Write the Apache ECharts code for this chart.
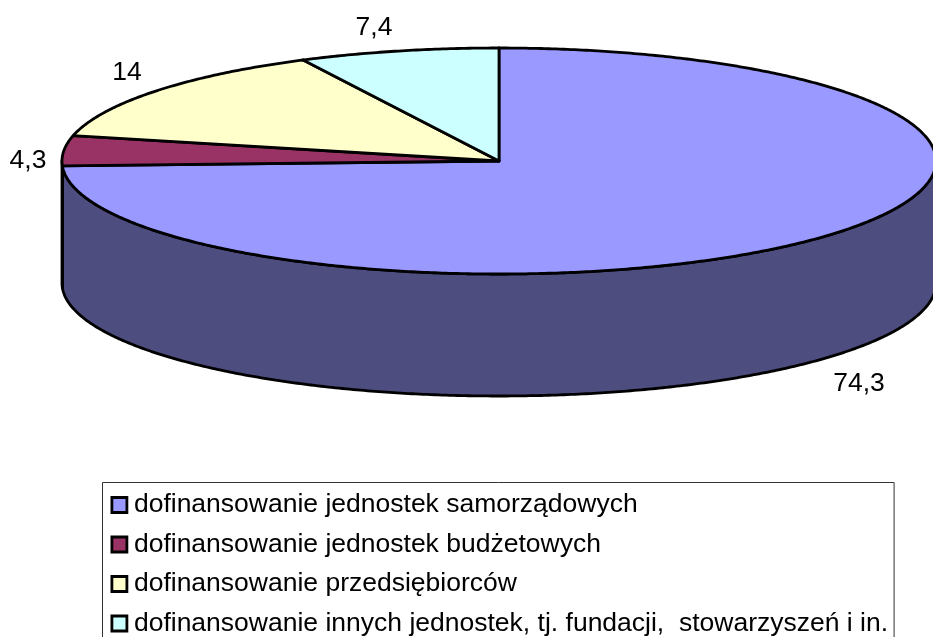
<!DOCTYPE html>
<html lang="pl">

<head>
    <meta charset="UTF-8">
    <title>Struktura dofinansowania</title>
    <script src="https://cdn.jsdelivr.net/npm/echarts@6/dist/echarts.min.js"></script>
    <style>
        body {
            margin: 0;
            background: #fff;
        }

        #root {
            width: 933px;
            height: 637px;
        }
    </style>
</head>

<body>

    <div id="root"></div>
    <script>

        var categories = [
            'dofinansowanie jednostek samorządowych',
            'dofinansowanie jednostek budżetowych',
            'dofinansowanie przedsiębiorców',
            'dofinansowanie innych jednostek, tj. fundacji,  stowarzyszeń i in.'
        ];
        var values = [74.3, 4.3, 14, 7.4];
        var valueLabels = ['74,3', '4,3', '14', '7,4'];

        var topColors = ['#9999ff', '#993366', '#ffffcc', '#ccffff'];
        var sideColors = ['#4d4d80', '#4d1a33', '#808066', '#668080'];

        // where excel put the labels (centre of text)
        var labelPos = [[859, 384], [28, 161], [127, 73], [374, 28]];

        // ellipse of the pie top
        var cx = 499, cy = 161, rx = 437, ry = 113, depth = 122;
        var total = values.reduce(function (a, b) { return a + b; }, 0);
        var FONT = '"Liberation Sans", Arial, sans-serif';

        function pt(deg, dy) {
            var a = deg * Math.PI / 180;
            return [cx + rx * Math.sin(a), cy - ry * Math.cos(a) + (dy || 0)];
        }

        function arc(from, to, dy) {
            var pts = [], steps = Math.max(2, Math.ceil(Math.abs(to - from) * 2));
            for (var i = 0; i <= steps; i++) {
                pts.push(pt(from + (to - from) * i / steps, dy));
            }
            return pts;
        }

        function sliceSeries(idx) {
            var before = values.slice(0, idx).reduce(function (a, b) { return a + b; }, 0);
            return {
                type: 'custom',
                name: categories[idx],
                coordinateSystem: 'none',
                silent: true,
                animation: false,
                itemStyle: { color: topColors[idx] },
                data: [[values[idx]]],
                renderItem: function (params, api) {
                    var start = before / total * 360;
                    var end = start + api.value(0) / total * 360;
                    var children = [];
                    var style = { stroke: '#000', lineWidth: 2.8, lineJoin: 'round' };

                    // wall, only the front half of the ellipse is visible
                    var sFrom = Math.max(start, 90), sTo = Math.min(end, 270);
                    if (sTo > sFrom) {
                        children.push({
                            type: 'polygon',
                            shape: { points: arc(sFrom, sTo, 0).concat(arc(sTo, sFrom, depth)) },
                            style: Object.assign({ fill: sideColors[idx] }, style)
                        });
                    }

                    children.push({
                        type: 'polygon',
                        shape: { points: [[cx, cy]].concat(arc(start, end, 0)) },
                        style: Object.assign({ fill: topColors[idx] }, style)
                    });

                    children.push({
                        type: 'text',
                        x: labelPos[idx][0],
                        y: labelPos[idx][1],
                        style: {
                            text: valueLabels[idx],
                            fill: '#000',
                            font: '26.5px ' + FONT,
                            align: 'center',
                            verticalAlign: 'middle'
                        }
                    });

                    return { type: 'group', children: children };
                }
            };
        }

        var mychart = echarts.init(document.getElementById('root'), null, { renderer: 'canvas' });

        mychart.setOption({
            animation: false,
            backgroundColor: '#fff',
            legend: {
                orient: 'vertical',
                left: 102.5,
                top: 482.5,
                height: 200,
                align: 'left',
                padding: [9, 6, 30, 8],
                itemGap: 12.5,
                itemWidth: 15,
                itemHeight: 15,
                icon: 'rect',
                selectedMode: false,
                borderColor: '#333',
                borderWidth: 1,
                backgroundColor: '#fff',
                itemStyle: { borderColor: '#000', borderWidth: 2.8 },
                textStyle: {
                    color: '#000',
                    fontFamily: FONT,
                    fontSize: 26.5,
                    lineHeight: 24,
                    padding: [0, 0, 0, 2]
                },
                data: categories
            },
            series: categories.map(function (c, i) { return sliceSeries(i); })
        });

    </script>

</body>

</html>
